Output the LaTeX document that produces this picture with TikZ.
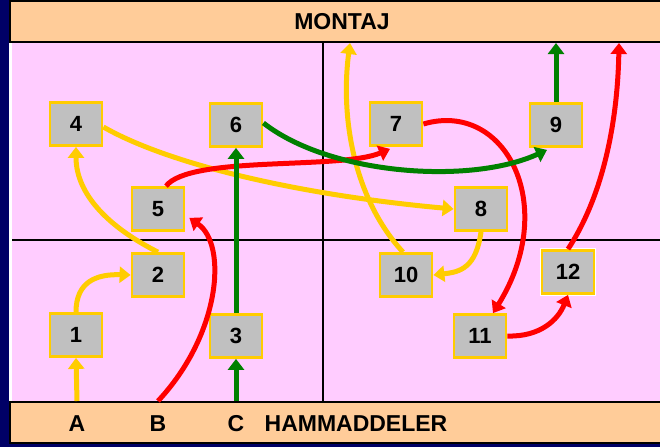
\documentclass[tikz,border=0pt]{standalone}
\usepackage{fontspec}
\setmainfont{Liberation Sans}
\usetikzlibrary{arrows.meta,calc}
\definecolor{navy}{HTML}{000066}
\definecolor{pinkbg}{HTML}{FFCCFF}
\definecolor{barorange}{HTML}{FFCC99}
\definecolor{boxgray}{HTML}{C0C0C0}
\definecolor{gold}{HTML}{FFCC00}
\definecolor{dkgreen}{HTML}{008000}
\begin{document}
\begin{tikzpicture}[x=1pt,y=-1pt,
 box/.style={draw=gold,fill=boxgray,line width=2.8pt,minimum width=52pt,minimum height=43pt,inner sep=0pt,font=\bfseries\fontsize{22}{24}\selectfont},
 bar/.style={draw=black,fill=barorange,line width=2pt},
 lbl/.style={font=\bfseries\fontsize{23}{26}\selectfont},
 flow/.style={line width=5pt,-{Triangle[length=11pt,width=16pt]}},
 yflow/.style={flow,draw=gold},gflow/.style={flow,draw=dkgreen},rflow/.style={flow,draw=red}]
\useasboundingbox (0,0) rectangle (660,447);
\fill[navy] (0,0) rectangle (660,447);
\fill[white] (9,42) rectangle (12,403);
\fill[pinkbg] (12,42) rectangle (660,403);
\draw[line width=2.4pt] (323,42) -- (323,402);
\draw[line width=2.4pt] (12,240) -- (660,240);
\draw[bar] (10,1) rectangle (664,42);
\draw[bar] (10,402) rectangle (664,443);
\node[lbl](montaj) at (342,22){MONTAJ};
\node[lbl](ma) at (77,424){A};
\node[lbl](mb) at (158,424){B};
\node[lbl](mc) at (236,424){C};
\node[lbl](ham) at (356,424){HAMMADDELER};
\coordinate (top) at (0,43);
\coordinate (bot) at (0,401);
\coordinate (in1) at (350,43);
\coordinate (in3) at (619,43);
\node[box](p1) at (76,335){1};
\node[box](p2) at (158,275){2};
\node[box](p3) at (236,336){3};
\node[box](p4) at (76,124){4};
\node[box](p5) at (158,209){5};
\node[box](p6) at (236,125){6};
\node[box](p7) at (396,124){7};
\node[box](p8) at (481,209){8};
\node[box](p9) at (556,125){9};
\node[box](p10) at (406,275){10};
\node[box](p11) at (480,336){11};
\node[box,preaction={draw=white,line width=4.8pt}](p12) at (568,272){12};
\draw[yflow] (ma|-bot) -- (p1.south);
\draw[yflow] (p1.north) .. controls (76,282) and (96,274) .. (p2.west);
\draw[yflow] (p2.north) .. controls (110,228) and (76,195) .. (p4.south);
\draw[yflow] ($(p4.east)+(0,3)$) .. controls (170,165) and (300,195) .. (p8.west);
\draw[yflow] (p8.south) .. controls (476,268) and (460,272) .. (p10.east);
\draw[yflow] ($(p10.north)+(-3,0)$) .. controls (355,200) and (340,120) .. (in1);
\draw[rflow] (mb|-bot) .. controls (220,335) and (228,245) .. ($(p5.south east)+(4,-14)$);
\draw[rflow] ($(p5.north)+(8,0)$) .. controls (190,155) and (340,170) .. ($(p7.south)+(-6,2)$);
\draw[rflow] (p7.east) .. controls (505,100) and (560,205) .. ($(p11.north)+(13,0)$);
\draw[rflow] (p11.east) .. controls (540,337) and (558,320) .. (p12.south);
\draw[rflow] (p12.north) .. controls (610,185) and (618,100) .. (in3);
\draw[gflow] (mc|-bot) -- (p3.south);\draw[gflow] (p3.north) -- (p6.south);
\draw[gflow] ($(p6.east)+(0,-2)$) .. controls (330,175) and (470,185) .. ($(p9.south)+(-9,2)$);
\draw[gflow] (p9.north) -- (p9.north|-top);
\end{tikzpicture}
\end{document}
